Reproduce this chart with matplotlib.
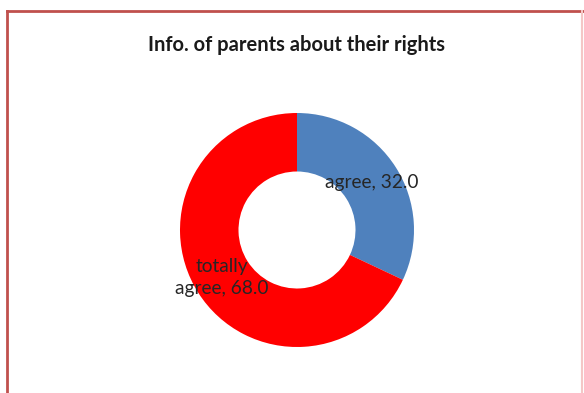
import numpy as np
import matplotlib
matplotlib.use('Agg')
import matplotlib.pyplot as plt
from matplotlib.lines import Line2D

labels = ['agree', 'totally\nagree']
values = [32.0, 68.0]
colors = ['#4f81bd', '#ff0000']
title = 'Info. of parents about their rights'

fig = plt.figure(figsize=(5.84, 3.93), dpi=100)
fig.patch.set_facecolor('white')

# chart border (top / left in Excel red, right faint)
W, H = 584.0, 393.0
fig.add_artist(Line2D([7/W, 1.0], [1-11/H, 1-11/H], color='#c0504d', lw=2.0))
fig.add_artist(Line2D([7/W, 7/W], [0.0, 1-11/H], color='#c0504d', lw=2.0))
fig.add_artist(Line2D([582/W, 582/W], [0.0, 1-11/H], color='#f4c7c6', lw=1.5))

cx, cy, r = 297, 230, 117
ax = fig.add_axes([(cx-r)/W, (H-cy-r)/H, 2*r/W, 2*r/H])
wedges, _ = ax.pie(values, colors=colors, startangle=90, counterclock=False,
                   radius=1.0, wedgeprops=dict(width=0.5, linewidth=0))
ax.set_xlim(-1, 1)
ax.set_ylim(-1, 1)
ax.axis('off')

for w, lab, v in zip(wedges, labels, values):
    ang = np.deg2rad(0.5*(w.theta1 + w.theta2))
    ax.text(0.76*np.cos(ang), 0.76*np.sin(ang), '%s, %.1f' % (lab, v),
            ha='center', va='center', fontsize=13.8, color='#262626',
            family='Lato', linespacing=1.35)

fig.text(296/W, 1-45/H, title, ha='center', va='center', fontsize=14.5,
         fontweight='bold', family='Lato', color='#1a1a1a')

fig.savefig('out.png', dpi=100)
plt.close(fig)
